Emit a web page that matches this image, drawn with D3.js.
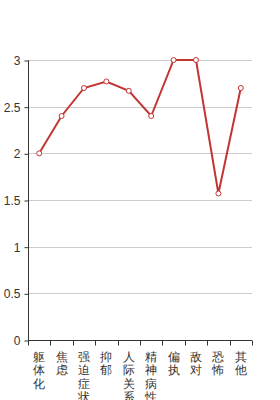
<!DOCTYPE html>
<html>
<head>
<meta charset="utf-8">
<script src="https://cdn.jsdelivr.net/npm/d3@7"></script>
<style>
  body { margin: 0; background: #fff; }
</style>
</head>
<body>
<div id="chart"></div>
<script>
const categories = ['躯体化', '焦虑', '强迫症状', '抑郁', '人际关系敏感', '精神病性', '偏执', '敌对', '恐怖', '其他']
const scores = [2, 2.4, 2.7, 2.77, 2.67, 2.4, 3, 3, 1.57, 2.7]
const yTicks = [0, 0.5, 1, 1.5, 2, 2.5, 3]

const W = 280
const H = 400
const plotLeft = 28
const plotRight = 252
const plotTop = 60
const plotBottom = 340
const color = '#c23531'
const font = 'sans-serif'

const svg = d3.select('#chart').append('svg').attr('width', W).attr('height', H)

const x = d3.scaleBand().domain(categories).range([plotLeft, plotRight])
const y = d3.scaleLinear().domain([0, 3]).range([plotBottom, plotTop])

// grid lines
svg
  .append('g')
  .selectAll('line')
  .data(yTicks.filter((t) => t > 0))
  .join('line')
  .attr('x1', plotLeft)
  .attr('x2', plotRight)
  .attr('y1', (d) => Math.round(y(d)) + 0.5)
  .attr('y2', (d) => Math.round(y(d)) + 0.5)
  .attr('stroke', '#ccc')

// y axis
const yAxis = svg
  .append('g')
  .attr('transform', `translate(${plotLeft + 0.5},0.5)`)
  .call(d3.axisLeft(y).tickValues(yTicks).tickSize(4).tickPadding(4).tickFormat((d) => d))
yAxis.select('.domain').attr('stroke', '#333').attr('d', `M0,${plotTop}V${plotBottom}`)
yAxis.selectAll('.tick line').attr('stroke', '#333')
yAxis.selectAll('text').attr('fill', '#333').attr('font-size', 12).attr('font-family', font)

// x axis with ticks on band boundaries
const xAxis = svg.append('g').attr('transform', `translate(0,${plotBottom + 0.5})`)
xAxis
  .append('line')
  .attr('x1', plotLeft)
  .attr('x2', plotRight)
  .attr('stroke', '#333')
const bounds = categories.map((c) => x(c)).concat([plotRight])
xAxis
  .selectAll('.xt')
  .data(bounds)
  .join('line')
  .attr('class', 'xt')
  .attr('x1', (d) => Math.round(d) + 0.5)
  .attr('x2', (d) => Math.round(d) + 0.5)
  .attr('y1', 0)
  .attr('y2', 5)
  .attr('stroke', '#333')

// vertical category labels, one character per line
const labels = xAxis
  .selectAll('.xl')
  .data(categories)
  .join('text')
  .attr('class', 'xl')
  .attr('fill', '#333')
  .attr('font-size', 12)
  .attr('font-family', font)
  .attr('text-anchor', 'middle')
labels
  .selectAll('tspan')
  .data((d) => Array.from(d).map((ch) => ({ ch, cat: d })))
  .join('tspan')
  .attr('x', (d) => x(d.cat) + x.bandwidth() / 2)
  .attr('y', (d, i) => 20 + i * 13.5)
  .text((d) => d.ch)

// line
const line = d3
  .line()
  .x((d, i) => x(categories[i]) + x.bandwidth() / 2)
  .y((d) => y(d))

svg
  .append('path')
  .datum(scores)
  .attr('d', line)
  .attr('fill', 'none')
  .attr('stroke', color)
  .attr('stroke-width', 2)

svg
  .append('g')
  .selectAll('circle')
  .data(scores)
  .join('circle')
  .attr('cx', (d, i) => x(categories[i]) + x.bandwidth() / 2)
  .attr('cy', (d) => y(d))
  .attr('r', 2.5)
  .attr('fill', '#fff')
  .attr('stroke', color)
  .attr('stroke-width', 1)
</script>
</body>
</html>
